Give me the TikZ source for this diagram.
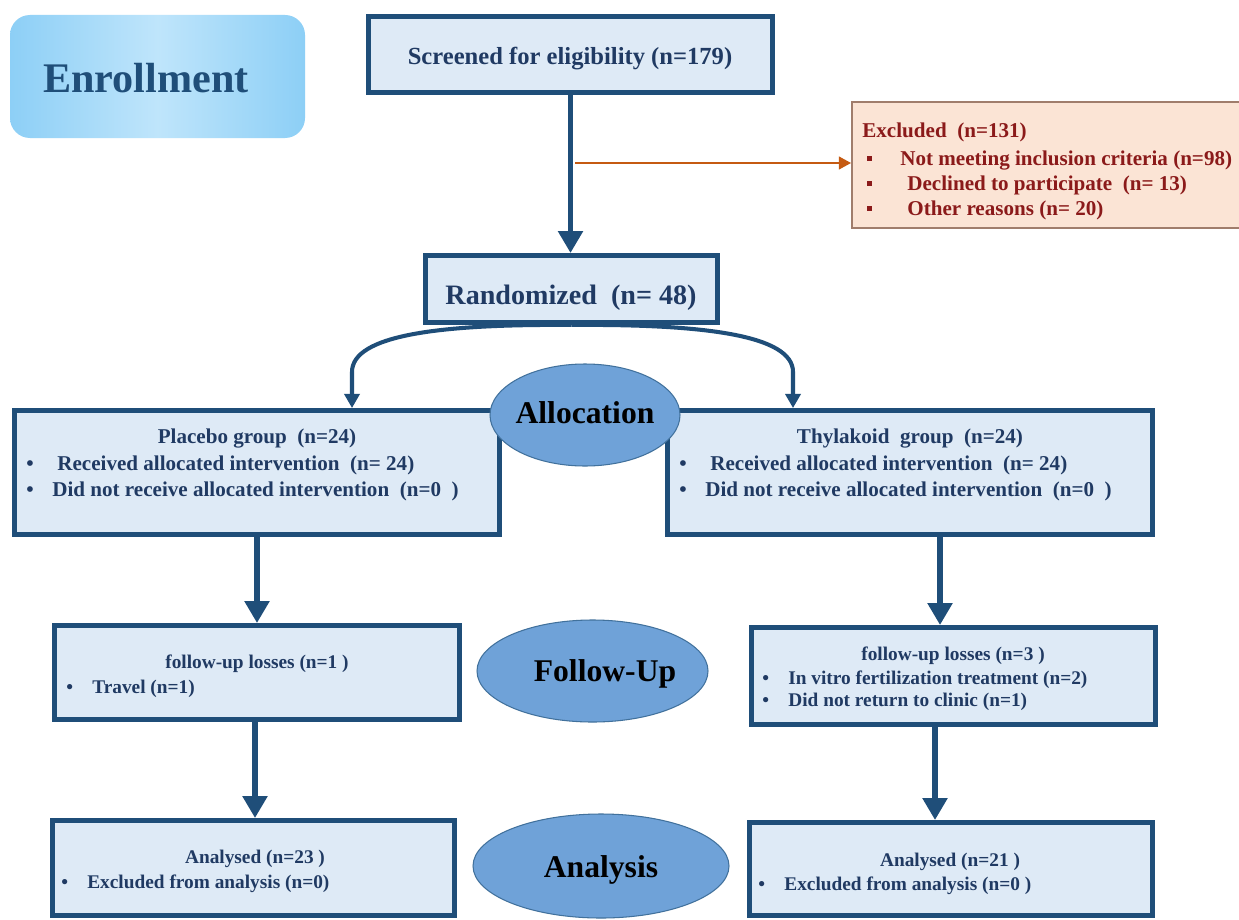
\documentclass[tikz,border=0pt]{standalone}
\usepackage{fontspec}
\setmainfont{Liberation Serif}
\usetikzlibrary{arrows.meta,shapes.geometric}

\definecolor{boxblue}{HTML}{1F4E79}
\definecolor{boxfill}{HTML}{DEEAF6}
\definecolor{textblue}{HTML}{203A63}
\definecolor{ovalfill}{HTML}{6FA2D8}
\definecolor{ovalline}{HTML}{41719C}
\definecolor{exfill}{HTML}{FBE4D5}
\definecolor{exline}{HTML}{A07D6C}
\definecolor{exred}{HTML}{8B1A1A}
\definecolor{exorange}{HTML}{C55A11}
\definecolor{enrolside}{HTML}{8DCFF6}
\definecolor{enrolmid}{HTML}{BFE5FB}

\begin{document}
\begin{tikzpicture}[x=0.02cm, y=-0.02cm,
    boxsize/.style 2 args={minimum width=#1*0.02cm, minimum height=#2*0.02cm},
    flowbox/.style={draw=boxblue, fill=boxfill, line width=2.8pt, inner sep=0pt},
    exbox/.style={draw=exline, fill=exfill, line width=0.9pt, inner sep=0pt},
    stage/.style={ellipse, draw=ovalline, fill=ovalfill, line width=0.6pt, inner sep=0pt},
    stagetext/.style={font=\bfseries\fontsize{18}{20}\selectfont, anchor=base, inner sep=0pt},
    title/.style={font=\bfseries\fontsize{12}{14}\selectfont, text=textblue, anchor=base, inner sep=0pt},
    item/.style={font=\bfseries\fontsize{12}{14}\selectfont, text=textblue, anchor=base west, inner sep=0pt},
    small/.style={font=\bfseries\fontsize{11}{13}\selectfont},
    extext/.style={font=\bfseries\fontsize{12}{14}\selectfont, text=exred, anchor=base west, inner sep=0pt},
    exsq/.style={fill=exred, minimum size=5*0.02cm, inner sep=0pt},
    bigarrow/.style={draw=boxblue, line width=3.4pt, -{Triangle[width=13.6pt,length=12.5pt]}},
    splitarrow/.style={draw=boxblue, line width=2.3pt, -{Triangle[width=8.5pt,length=8pt]}},
    exarrow/.style={draw=exorange, line width=1.7pt, -{Triangle[width=7pt,length=7pt]}}
]
    \useasboundingbox (0,0) rectangle (1239,919);
    \fill[white] (0,0) rectangle (1239,919);

    % enrollment label
    \node[rounded corners=0.4cm, left color=enrolside, right color=enrolside, middle color=enrolmid,
        boxsize={295}{123}] (enrol) at (157.5,76.5) {};
    \node[font=\bfseries\fontsize{24}{28}\selectfont, text=boxblue, inner sep=0pt] (enrolt) at (146,78) {Enrollment};

    % screening
    \node[flowbox, boxsize={404}{76}] (scr) at (570.5,54.5) {};
    \node[title, font=\bfseries\fontsize{14}{16}\selectfont] (scrt) at (570,65) {Screened for eligibility (n=179)};

    % excluded
    \node[exbox, boxsize={393}{126}] (excl) at (1048.5,165) {};
    \node[extext] (exclt) at (862,137) {Excluded\ \ (n=131)};
    \node[exsq] (sq1) at (869,158) {};
    \node[extext] (ex1) at (900,165) {Not meeting inclusion criteria (n=98)};
    \node[exsq] (sq2) at (869,183) {};
    \node[extext] (ex2) at (907,190) {Declined to participate\ \ (n= 13)};
    \node[exsq] (sq3) at (869,208) {};
    \node[extext] (ex3) at (907,215) {Other\ reasons (n= 20)};

    % randomized
    \node[flowbox, boxsize={292}{67}] (rand) at (571.5,289) {};
    \node[title, font=\bfseries\fontsize{16}{18}\selectfont] (randt) at (571,304) {Randomized\ \ (n= 48)};

    % allocation
    \node[flowbox, boxsize={485}{124}] (plac) at (257,472.5) {};
    \node[title] (plact) at (257,443) {Placebo group\ \ (n=24)};
    \node[item] (pb1) at (26,470) {\textbullet};
    \node[item] (pl1) at (57,470) {Received allocated intervention\ \ (n= 24)};
    \node[item] (pb2) at (26,496) {\textbullet};
    \node[item] (pl2) at (52,496) {Did not receive allocated intervention\ \ (n=0\ \ )};

    \node[flowbox, boxsize={485}{124}] (thyl) at (910,472.5) {};
    \node[title] (thylt) at (910,443) {Thylakoid\ \ group\ \ (n=24)};
    \node[item] (tb1) at (679,470) {\textbullet};
    \node[item] (th1) at (710,470) {Received allocated intervention\ \ (n= 24)};
    \node[item] (tb2) at (679,496) {\textbullet};
    \node[item] (th2) at (705,496) {Did not receive allocated intervention\ \ (n=0\ \ )};

    % follow-up
    \node[flowbox, boxsize={405}{94}] (fupL) at (257,672.5) {};
    \node[title, small] (fupLt) at (257,668) {follow-up losses (n=1 )};
    \node[item, small] (fb1) at (66,693) {\textbullet};
    \node[item, small] (fl1) at (92,693) {Travel (n=1)};

    \node[flowbox, boxsize={404}{97}] (fupR) at (953.5,676) {};
    \node[title, small] (fupRt) at (953,660) {follow-up losses (n=3 )};
    \node[item, small] (fb2) at (762,684) {\textbullet};
    \node[item, small] (fr1) at (788,684) {In vitro fertilization treatment (n=2)};
    \node[item, small] (fb3) at (762,706) {\textbullet};
    \node[item, small] (fr2) at (788,706) {Did not return to clinic (n=1)};

    % analysis
    \node[flowbox, boxsize={402}{95}] (anaL) at (253.5,868) {};
    \node[title, small] (anaLt) at (255,863) {Analysed (n=23 )};
    \node[item, small] (ab1) at (61,888) {\textbullet};
    \node[item, small] (al1) at (87,888) {Excluded from analysis (n=0)};

    \node[flowbox, boxsize={403}{93}] (anaR) at (951,869) {};
    \node[title, small] (anaRt) at (950,866) {Analysed (n=21 )};
    \node[item, small] (ab2) at (758,890) {\textbullet};
    \node[item, small] (ar1) at (784,890) {Excluded from analysis (n=0 )};

    % stage ovals
    \node[stage, boxsize={190}{102}] (alloc) at (585,415) {};
    \node[stagetext] (alloct) at (585,423) {Allocation};
    \node[stage, boxsize={231}{102}] (fupo) at (592.5,671) {};
    \node[stagetext] (fupot) at (605,681) {Follow-Up};
    \node[stage, boxsize={256}{104}] (anao) at (601,866) {};
    \node[stagetext] (anaot) at (601,877) {Analysis};

    % arrows
    \draw[bigarrow] (scr.south) -- (scr.south |- rand.north);
    \coordinate (exjoin) at (575,163);
    \draw[exarrow] (exjoin) -- (exjoin -| excl.west);

    \coordinate (plx) at (352,0);
    \coordinate (thx) at (793,0);
    \draw[splitarrow] (rand.south) .. controls (440,324) and (352,335) .. (352,372) -- (plx |- plac.north);
    \draw[splitarrow] (rand.south) .. controls (703,324) and (793,335) .. (793,372) -- (thx |- thyl.north);

    \draw[bigarrow] (plac.south) -- (fupL.north);
    \coordinate (thdown) at (940,0);
    \draw[bigarrow] (thdown |- thyl.south) -- (thdown |- fupR.north);
    \coordinate (fldown) at (255,0);
    \draw[bigarrow] (fldown |- fupL.south) -- (fldown |- anaL.north);
    \coordinate (frdown) at (935,0);
    \draw[bigarrow] (frdown |- fupR.south) -- (frdown |- anaR.north);
\end{tikzpicture}
\end{document}
